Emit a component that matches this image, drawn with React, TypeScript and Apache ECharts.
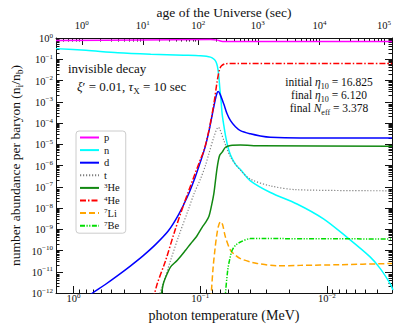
import React, { useEffect, useRef } from "react";
import * as echarts from "echarts";

const FONT = "'Liberation Serif', 'Times New Roman', serif";
const INK = "#111111";

// axis ranges, in log10 units
const logTempRange = [-2.514, 0.139]; // log10(T / MeV), drawn reversed
const logAbundRange = [-12, 0]; // log10(n_i / n_b)
const tempMajor = [-2, -1, 0];
const abundMajor = [-12, -11, -10, -9, -8, -7, -6, -5, -4, -3, -2, -1, 0];
// age of the Universe: 10^k sec and the matching log10(T/MeV)
const ageExp = [0, 1, 2, 3, 4, 5];
const ageLogT = [-0.065, -0.546, -0.984, -1.454, -1.942, -2.451];

const names = ["p", "n", "d", "t", "3He", "4He", "7Li", "7Be"];
const colors = ["#ff00ff", "#00ffff", "#0000ff", "#808080", "#118811", "#ff0000", "#ffa500", "#00dd00"];

// curves: [log10 T, log10 abundance]
const pLog = [[0.139, -0.12], [-0.53, -0.09], [-1.081, -0.075], [-1.136, -0.1], [-1.176, -0.16], [-2.514, -0.16]];
const nLog = [
  [0.139, -0.5], [-0.097, -0.58], [-0.349, -0.69], [-0.609, -0.76], [-0.869, -0.81], [-1.002, -0.84],
  [-1.081, -0.9], [-1.109, -1.0], [-1.124, -1.12], [-1.136, -1.35], [-1.146, -1.77], [-1.154, -2.33],
  [-1.164, -2.94], [-1.173, -3.58], [-1.186, -4.11], [-1.199, -4.58], [-1.219, -5.14], [-1.239, -5.51],
  [-1.278, -5.95], [-1.317, -6.19], [-1.396, -6.72], [-1.554, -7.27], [-1.764, -7.81], [-1.973, -8.51],
  [-2.157, -9.37], [-2.341, -10.3], [-2.42, -10.84], [-2.498, -11.55], [-2.522, -11.86],
];
const dLog = [
  [-0.08, -12.3], [-0.15, -12], [-0.25, -11.6], [-0.35, -11.17], [-0.45, -10.72], [-0.55, -10.24],
  [-0.65, -9.7], [-0.75, -9.06], [-0.83, -8.3], [-0.9, -7.45], [-0.96, -6.55], [-1.0, -5.85],
  [-1.04, -5.1], [-1.07, -4.35], [-1.095, -3.6], [-1.118, -2.92], [-1.132, -2.6], [-1.142, -2.52],
  [-1.156, -2.64], [-1.186, -3.11], [-1.211, -3.55], [-1.239, -3.89], [-1.278, -4.18], [-1.317, -4.36],
  [-1.396, -4.51], [-1.475, -4.61], [-1.554, -4.67], [-1.79, -4.7], [-2.514, -4.7],
];
const tLog = [
  [-0.672, -12.3], [-0.683, -12], [-0.701, -11.67], [-0.766, -10.46], [-0.829, -9.34], [-0.909, -8.03],
  [-0.95, -7.34], [-1.002, -6.63], [-1.042, -5.98], [-1.068, -5.45], [-1.107, -4.67], [-1.142, -4.2],
  [-1.186, -4.82], [-1.239, -5.6], [-1.317, -6.22], [-1.396, -6.64], [-1.554, -6.96], [-1.764, -7.14],
  [-2.514, -7.19],
];
const he3Log = [
  [-0.687, -12.3], [-0.695, -12], [-0.709, -11.55], [-0.74, -11.08], [-0.766, -10.77], [-0.819, -10.46],
  [-0.884, -9.99], [-0.924, -9.68], [-0.971, -9.34], [-1.016, -8.9], [-1.042, -8.68], [-1.068, -8.4],
  [-1.089, -7.89], [-1.107, -7.34], [-1.12, -6.72], [-1.132, -6.16], [-1.142, -5.79], [-1.154, -5.51],
  [-1.173, -5.37], [-1.199, -5.14], [-1.239, -5.06], [-1.317, -5.04], [-1.475, -5.07], [-2.514, -5.09],
];
const he4Log = [
  [-0.624, -12.3], [-0.64, -12], [-0.661, -11.55], [-0.727, -10.46], [-0.792, -9.21], [-0.871, -7.81],
  [-1.002, -5.7], [-1.028, -5.32], [-1.068, -4.36], [-1.107, -3.11], [-1.134, -2.02], [-1.152, -1.49],
  [-1.168, -1.31], [-1.199, -1.21], [-1.278, -1.2], [-2.514, -1.2],
];
const li7Log = [
  [-1.083, -12.3], [-1.087, -12], [-1.102, -10.77], [-1.117, -9.9], [-1.128, -9.37], [-1.143, -8.87],
  [-1.16, -8.64], [-1.176, -8.78], [-1.199, -9.37], [-1.239, -9.99], [-1.278, -10.22], [-1.317, -10.38],
  [-1.396, -10.54], [-1.449, -10.61], [-1.606, -10.72], [-1.79, -10.7], [-2.104, -10.67], [-2.514, -10.61],
];
const be7Log = [
  [-1.196, -12.3], [-1.199, -12], [-1.217, -10.92], [-1.231, -10.46], [-1.252, -9.99], [-1.278, -9.76],
  [-1.317, -9.6], [-1.396, -9.44], [-1.501, -9.44], [-2.514, -9.46],
];
const curves = [pLog, nLog, dLog, tLog, he3Log, he4Log, li7Log, be7Log];
const dashes: any[] = ["solid", "solid", "solid", [1.2, 1.8], "solid", [6, 2, 1.5, 2], [6, 3], [5, 1.5, 1.2, 1.5, 1.2, 1.5]];
const widths = [1.5, 1.5, 1.5, 1.2, 1.5, 1.5, 1.5, 1.5];

function decadeMinors(lo: number, hi: number) {
  const out: number[] = [];
  for (let d = Math.floor(lo) - 1; d <= Math.ceil(hi); d++)
    for (let k = 2; k <= 9; k++) {
      const v = d + Math.log10(k);
      if (v > lo && v < hi) out.push(v);
    }
  return out;
}
function ageToLogT(le: number) {
  const n = ageExp.length;
  let i = Math.floor(le - ageExp[0]);
  if (i < 0) i = 0;
  if (i > n - 2) i = n - 2;
  const f = (le - ageExp[i]) / (ageExp[i + 1] - ageExp[i]);
  return ageLogT[i] + f * (ageLogT[i + 1] - ageLogT[i]);
}
const tempMinor = decadeMinors(logTempRange[0], logTempRange[1]);
const abundMinor = decadeMinors(logAbundRange[0], logAbundRange[1]);
const ageMinor: number[] = [];
for (let d = -1; d <= 5; d++)
  for (let k = 2; k <= 9; k++) {
    const v = ageToLogT(d + Math.log10(k));
    if (v > logTempRange[0] && v < logTempRange[1]) ageMinor.push(v);
  }

const pow = (e: number) => {
  const r = Math.round(e);
  return `{b|10}{s|${r < 0 ? "\u2212" + Math.abs(r) : r}}`;
};
const powRich = {
  b: { fontFamily: FONT, fontSize: 10.5, lineHeight: 12, verticalAlign: "bottom", color: INK },
  s: { fontFamily: FONT, fontSize: 7, lineHeight: 8, verticalAlign: "top", padding: [0, 0, 7, 0], color: INK },
};
const powRichZ = {
  b: { fontFamily: FONT, fontSize: 10.5, lineHeight: 12, verticalAlign: "bottom", fill: INK },
  s: { fontFamily: FONT, fontSize: 7, lineHeight: 8, verticalAlign: "top", padding: [0, 0, 6, 0], fill: INK },
};
const frame = { color: INK, width: 1 };

function tickAxis(pos: string, range: number[], ticks: number[], len: number, inverse: boolean, line: boolean) {
  return {
    type: "value",
    position: pos,
    min: range[0],
    max: range[1],
    inverse,
    axisLine: { show: line, onZero: false, lineStyle: frame },
    axisTick: { show: true, inside: true, length: len, customValues: ticks, lineStyle: frame },
    axisLabel: { show: false },
    splitLine: { show: false },
  };
}

function mathRich(fs: number) {
  return {
    b: { fontFamily: FONT, fontSize: fs, lineHeight: fs + 2, verticalAlign: "top", fill: INK },
    i: { fontFamily: FONT, fontStyle: "italic", fontSize: fs, lineHeight: fs + 2, verticalAlign: "top", fill: INK },
    sub: { fontFamily: FONT, fontSize: fs * 0.7, lineHeight: fs * 0.7 + 1, padding: [fs * 0.55, 0, 0, 0], verticalAlign: "top", fill: INK },
  };
}

const legendLabel = (n: string) => {
  const m = n.match(/^(\d)(.+)$/);
  return m ? `{s|${m[1]}}{b|${m[2]}}` : `{b|${n}}`;
};

export default function App() {
  const ref = useRef<HTMLDivElement>(null);
  useEffect(() => {
    if (!ref.current) return;
    const chart = echarts.init(ref.current, undefined, { renderer: "svg" });
    const xAxes: any[] = [
      {
        ...tickAxis("bottom", logTempRange, tempMajor, 7, true, true),
        name: "photon temperature (MeV)",
        nameLocation: "middle",
        nameGap: 15,
        nameMoveOverlap: false,
        nameTextStyle: { fontFamily: FONT, fontSize: 14, color: INK },
      },
      tickAxis("bottom", logTempRange, tempMinor, 3.5, true, false),
      {
        ...tickAxis("top", logTempRange, ageLogT, 7, true, true),
        name: "age of the Universe (sec)",
        nameLocation: "middle",
        nameGap: 19,
        nameMoveOverlap: false,
        nameTextStyle: { fontFamily: FONT, fontSize: 13.5, color: INK },
      },
      tickAxis("top", logTempRange, ageMinor, 3.5, true, false),
    ];
    const yAxes: any[] = [
      {
        ...tickAxis("left", logAbundRange, abundMajor, 7, false, true),
        axisLabel: { show: true, customValues: abundMajor, margin: 3, formatter: (v: number) => pow(v), rich: powRich },
        name: "{b|number abundance per baryon (n}{sub|i}{b|/n}{sub|b}{b|)}",
        nameLocation: "middle",
        nameGap: 33,
        nameMoveOverlap: false,
        nameTextStyle: {
          fontFamily: FONT,
          fontSize: 13.5,
          color: INK,
          rich: {
            b: { fontFamily: FONT, fontSize: 13.5, lineHeight: 15, verticalAlign: "top", color: INK },
            sub: { fontFamily: FONT, fontSize: 9.5, lineHeight: 10, padding: [7, 0, 0, 0], verticalAlign: "top", color: INK },
          },
        },
      },
      tickAxis("left", logAbundRange, abundMinor, 3.5, false, false),
      tickAxis("right", logAbundRange, abundMajor, 7, false, true),
      tickAxis("right", logAbundRange, abundMinor, 3.5, false, false),
    ];

    const series: any[] = names.map((name, i) => ({
      name,
      type: "line",
      xAxisIndex: 0,
      yAxisIndex: 0,
      data: curves[i],
      symbol: "none",
      smooth: 0.3,
      clip: true,
      lineStyle: { color: colors[i], width: widths[i], type: dashes[i] },
      itemStyle: { color: colors[i] },
      z: 2 + i,
    }));

    // tick labels of the temperature axis (bottom) and the age axis (top)
    series.push({
      type: "custom",
      name: "temperature ticks",
      xAxisIndex: 0,
      yAxisIndex: 0,
      silent: true,
      clip: false,
      z: 20,
      data: tempMajor.map((v) => [v, logAbundRange[0], v]),
      renderItem: (params: any, api: any) => {
        const p = api.coord([api.value(0), logAbundRange[0]]);
        return {
          type: "text",
          x: p[0],
          y: p[1] - 1,
          style: { text: pow(api.value(2)), rich: powRichZ, align: "center", verticalAlign: "top", fill: INK },
        };
      },
    });
    series.push({
      type: "custom",
      name: "age ticks",
      xAxisIndex: 0,
      yAxisIndex: 0,
      silent: true,
      clip: false,
      z: 20,
      data: ageLogT.map((v, i) => [v, logAbundRange[1], ageExp[i]]),
      renderItem: (params: any, api: any) => {
        const p = api.coord([api.value(0), logAbundRange[1]]);
        return {
          type: "text",
          x: p[0],
          y: p[1] - 7,
          style: { text: pow(api.value(2)), rich: powRichZ, align: "center", verticalAlign: "bottom", fill: INK },
        };
      },
    });

    chart.setOption({
      animation: false,
      backgroundColor: "#ffffff",
      grid: { left: 55, right: 8, top: 36, bottom: 37, containLabel: false },
      xAxis: xAxes,
      yAxis: yAxes,
      legend: {
        data: names,
        orient: "vertical",
        left: 76,
        top: 131,
        itemWidth: 19,
        itemHeight: 8,
        itemGap: 1.6,
        padding: [1, 6, 2, 3],
        borderColor: "#cccccc",
        borderWidth: 1,
        borderRadius: 3,
        backgroundColor: "rgba(255,255,255,0.85)",
        itemStyle: { opacity: 0 },
        formatter: legendLabel,
        textStyle: {
          fontFamily: FONT,
          fontSize: 10.5,
          color: INK,
          rich: {
            b: { fontFamily: FONT, fontSize: 10.5, lineHeight: 11, verticalAlign: "bottom", color: INK },
            s: { fontFamily: FONT, fontSize: 7, lineHeight: 7, padding: [0, 0, 4, 0], verticalAlign: "top", color: INK },
          },
        },
      },
      graphic: [
        {
          type: "text",
          x: 68,
          y: 69,
          style: { text: "{b|invisible decay}", rich: mathRich(13), align: "left", verticalAlign: "middle", fill: INK },
        },
        {
          type: "text",
          x: 77,
          y: 87,
          style: {
            text: "{i|\u03be}{b|\u2032 = 0.01, }{i|\u03c4}{sub|X}{b| = 10 sec}",
            rich: mathRich(13),
            align: "left",
            verticalAlign: "middle",
            fill: INK,
          },
        },
        {
          type: "text",
          x: 329,
          y: 83,
          style: { text: "{b|initial }{i|\u03b7}{sub|10}{b| = 16.825}", rich: mathRich(11.5), align: "center", verticalAlign: "middle", fill: INK },
        },
        {
          type: "text",
          x: 329,
          y: 96,
          style: { text: "{b|final }{i|\u03b7}{sub|10}{b| = 6.120}", rich: mathRich(11.5), align: "center", verticalAlign: "middle", fill: INK },
        },
        {
          type: "text",
          x: 329,
          y: 109,
          style: { text: "{b|final }{i|N}{sub|eff}{b| = 3.378}", rich: mathRich(11.5), align: "center", verticalAlign: "middle", fill: INK },
        },
      ],
      series,
    });
    return () => chart.dispose();
  }, []);
  return <div ref={ref} style={{ position: "fixed", left: 0, top: 0, width: 400, height: 330 }} />;
}
